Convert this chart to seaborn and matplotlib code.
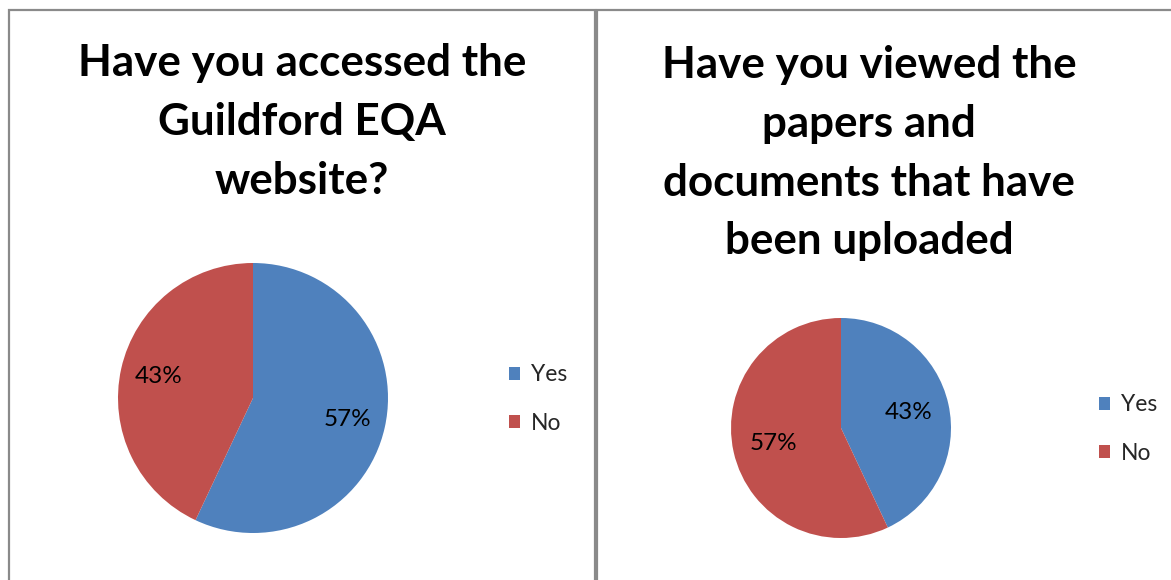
import matplotlib
matplotlib.use("Agg")
import matplotlib.pyplot as plt
import seaborn as sns
from matplotlib.patches import Patch, Rectangle

sns.set_theme(style="white")
plt.rcParams['font.family'] = ['Lato', 'DejaVu Sans']

# ---- data ----
labels = ["Yes", "No"]
accessed_values = [57, 43]
viewed_values = [43, 57]
title_left = "Have you accessed the\nGuildford EQA\nwebsite?"
title_right = "Have you viewed the\npapers and\ndocuments that have\nbeen uploaded"
colors = ["#4F81BD", "#C0504D"]

W, H = 1171, 580
fig = plt.figure(figsize=(W / 100, H / 100), dpi=100)
fig.patch.set_facecolor("white")

def fx(px):
    return px / W

def fy(py):
    return 1 - py / H

# panel borders
for (x0, y0, x1, y1) in [(9, 10, 595, 600), (597, 10, 1200, 600)]:
    fig.patches.append(Rectangle((fx(x0), fy(y1)), fx(x1) - fx(x0), fy(y0) - fy(y1),
                                 transform=fig.transFigure, fill=False,
                                 edgecolor="#8a8a8a", linewidth=1.6))

def draw_pie(values, cx, cy, r, pctdist, title, tx, ty, legx, legy):
    ax = fig.add_axes([fx(cx - r), fy(cy + r), fx(2 * r), (2 * r) / H])
    ax.pie(values, colors=colors, startangle=90, counterclock=False,
           autopct="%d%%", pctdistance=pctdist, radius=1,
           wedgeprops=dict(linewidth=0),
           textprops=dict(fontsize=17.5, color="black"))
    ax.set_xlim(-1, 1)
    ax.set_ylim(-1, 1)
    ax.set_aspect("equal")
    fig.text(fx(tx), fy(ty), title, ha="center", va="top", fontsize=31.7,
             fontweight="bold", linespacing=1.57, color="black")
    handles = [Patch(facecolor=c, edgecolor="none") for c in colors]
    fig.legend(handles, labels, loc="center left",
               bbox_to_anchor=(fx(legx), fy(legy)), frameon=False,
               fontsize=16.5, handlelength=0.5, handleheight=0.5,
               handletextpad=0.45, labelspacing=1.2, borderaxespad=0, borderpad=0)

draw_pie(accessed_values, 253, 398, 135, 0.72, title_left, 302, 43, 509, 399)
draw_pie(viewed_values, 841, 428, 110, 0.63, title_right, 869, 45, 1099, 429)

fig.savefig("out.png", dpi=100, facecolor="white")
